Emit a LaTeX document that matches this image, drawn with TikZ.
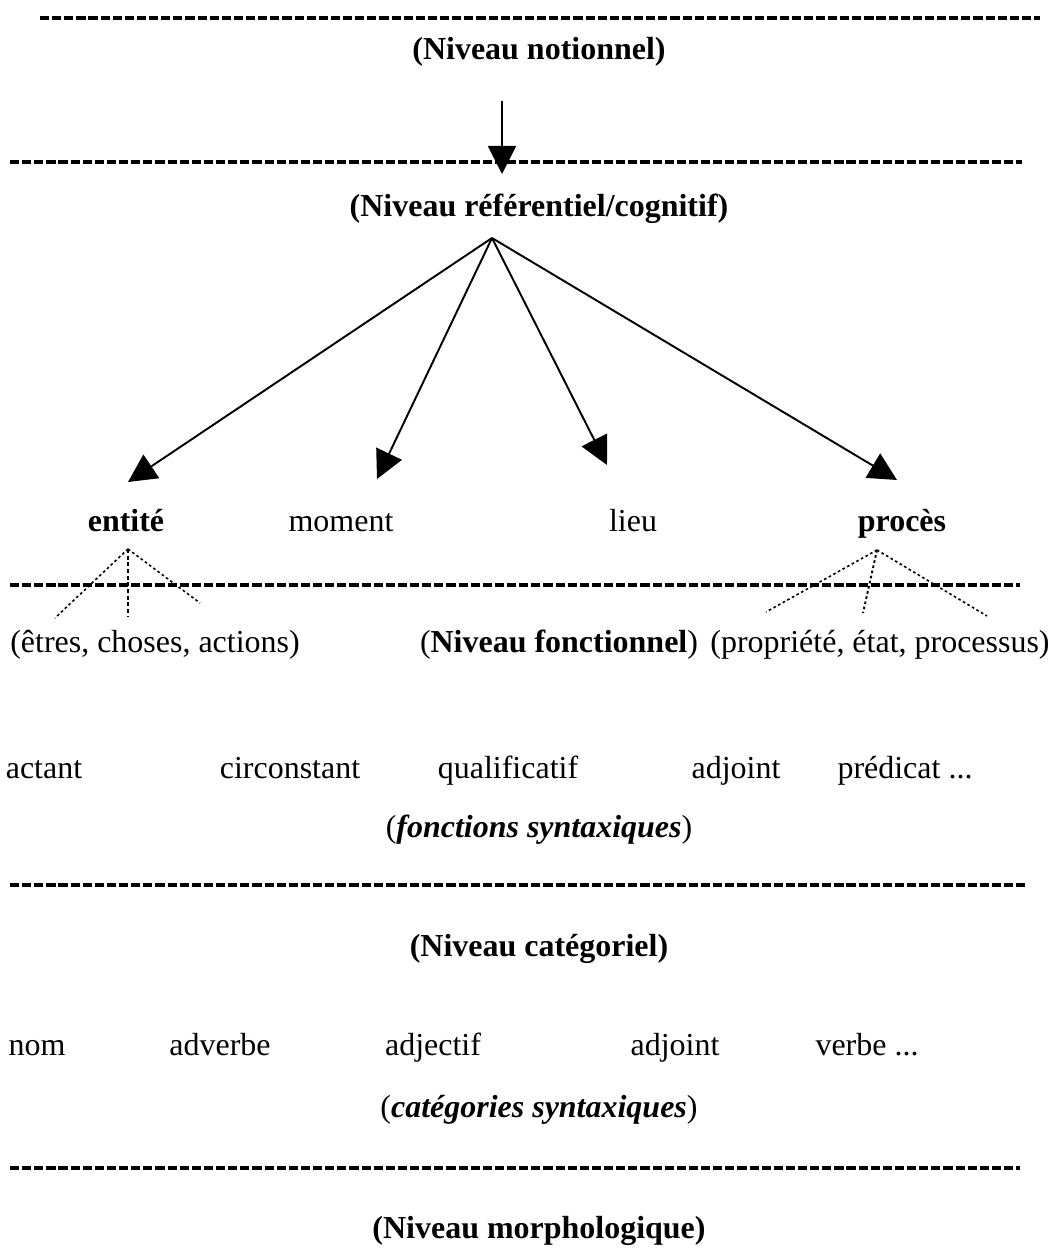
\documentclass[tikz,border=0pt]{standalone}
\usepackage{fontspec}
\setmainfont{Liberation Serif}
\usetikzlibrary{positioning,arrows.meta}

\begin{document}
\begin{tikzpicture}[x=0.02cm, y=-0.02cm]
  \tikzstyle{every node}=[anchor=base, inner sep=0pt, font=\fontsize{18.2}{22}\selectfont]
  \tikzstyle{levelline}=[line width=1.8pt, dash pattern=on 5.2pt off 1.7pt]
  \tikzstyle{link}=[-{Triangle[length=16pt,width=16pt]}, line width=1.1pt]
  \tikzstyle{fine}=[line width=0.9pt, dash pattern=on 1.5pt off 1.5pt]
  \tikzstyle{coarse}=[line width=1.5pt, dash pattern=on 2.2pt off 1.6pt]
  % \draw [step=50, blue!20] (0,0) grid (1056,1251);
  \useasboundingbox (0,0) rectangle (1056,1251);

  \node (notion) at (539,59) {\textbf{(Niveau notionnel)}};
  \node (refer) at (539,216) {\textbf{(Niveau référentiel/cognitif)}};
  \node (ent) at (126,531) {\textbf{entité}};
  \node (mom) at (341,531) {moment};
  \node (lieu) at (633,531) {lieu};
  \node (proc) at (902,531) {\textbf{procès}};
  \node (etres) at (155,652) {(êtres, choses, actions)};
  \node (fonct) at (559,652) {(\textbf{Niveau fonctionnel})};
  \node (propr) at (880,652) {(propriété, état, processus)};
  \node (f1) at (44,778) {actant};
  \node (f2) at (290,778) {circonstant};
  \node (f3) at (508,778) {qualificatif};
  \node (f4) at (736,778) {adjoint};
  \node (f5) at (905,778) {prédicat ...};
  \node (fsynt) at (539,837) {(\textbf{\textit{fonctions syntaxiques}})};
  \node (categ) at (539,956) {\textbf{(Niveau catégoriel)}};
  \node (c1) at (37,1055) {nom};
  \node (c2) at (220,1055) {adverbe};
  \node (c3) at (433,1055) {adjectif};
  \node (c4) at (675,1055) {adjoint};
  \node (c5) at (867,1055) {verbe ...};
  \node (csynt) at (539,1117) {(\textbf{\textit{catégories syntaxiques}})};
  \node (morph) at (539,1238) {\textbf{(Niveau morphologique)}};

  % niveaux
  \draw [levelline] (40,18) -- (1040,18);
  \draw [levelline] (10,162) -- (1022,162);
  \draw [levelline] (10,585) -- (1020,585);
  \draw [levelline] (10,885) -- (1025,885);
  \draw [levelline] (10,1168) -- (1020,1168);

  \coordinate (start) at (502,101);
  \coordinate (drop) at (502,174);
  \coordinate (apex) at (492,238);
  \coordinate (tEnt) at (128,482);
  \coordinate (tMom) at (377,479);
  \coordinate (tLieu) at (607,465);
  \coordinate (tProc) at (897,480);

  \draw [link] (start) -- (drop);
  \draw [link] (apex) -- (tEnt);
  \draw [link] (apex) -- (tMom);
  \draw [link] (apex) -- (tLieu);
  \draw [link] (apex) -- (tProc);

  \coordinate (eTop) at (128,549);
  \coordinate (e1) at (55,618);
  \coordinate (e2) at (128,617);
  \coordinate (e3) at (200,603);
  \coordinate (pTop) at (877,550);
  \coordinate (p1) at (766,612);
  \coordinate (p2) at (863,613);
  \coordinate (p3) at (987,616);

  \draw [fine] (eTop) -- (e1);
  \draw [coarse] (eTop) -- (e2);
  \draw [fine] (eTop) -- (e3);
  \draw [fine] (pTop) -- (p1);
  \draw [fine, line width=1.1pt] (pTop) -- (p2);
  \draw [fine] (pTop) -- (p3);
\end{tikzpicture}
\end{document}
